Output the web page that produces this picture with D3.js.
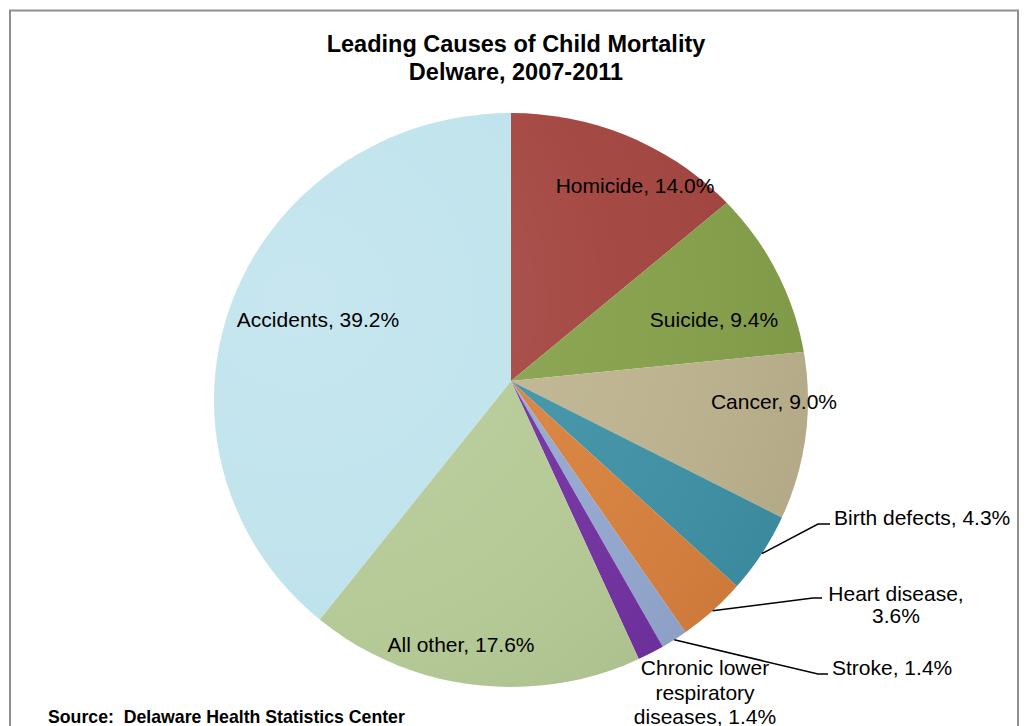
<!DOCTYPE html>
<html>
<head>
<meta charset="utf-8">
<script src="https://cdn.jsdelivr.net/npm/d3@7"></script>
<style>
  body { margin: 0; background: #fff; }
  text { font-family: "Liberation Sans", Arial, sans-serif; fill: #000; }
</style>
</head>
<body>
<svg id="chart" width="1029" height="726"></svg>
<script>
// data, clockwise from 12 o'clock
let causes = ["Homicide", "Suicide", "Cancer", "Birth defects", "Heart disease", "Stroke",
              "Chronic lower respiratory diseases", "All other", "Accidents"];
let shares = [14.0, 9.4, 9.0, 4.3, 3.6, 1.4, 1.4, 17.6, 39.2];
let sliceColors = ["#a3443f", "#85a04a", "#bdb38f", "#3f91a5", "#d7803d", "#93a7cf",
                   "#7131a0", "#b4c995", "#bde2ec"];
let labelLines = [
    ["Homicide, 14.0%"], ["Suicide, 9.4%"], ["Cancer, 9.0%"], ["Birth defects, 4.3%"],
    ["Heart disease,", "3.6%"], ["Stroke, 1.4%"],
    ["Chronic lower", "respiratory", "diseases, 1.4%"], ["All other, 17.6%"], ["Accidents, 39.2%"]
];

// layout
let svg = d3.select("#chart");
let apex = {x: 511, y: 381};                          // where the slices meet
let rim = {cx: 511, cy: 400, rx: 297, ry: 287};       // outline of the pie

// label placement: anchor, x, first baseline, line gap, optional leader (elbow x,y, end x)
let labelLayout = {
    "Homicide":      {anchor: "middle", x: 635, y: 193},
    "Suicide":       {anchor: "middle", x: 714, y: 327},
    "Cancer":        {anchor: "middle", x: 774, y: 409},
    "Birth defects": {anchor: "start",  x: 834, y: 525, leader: [818, 524, 830]},
    "Heart disease": {anchor: "middle", x: 896, y: 601, gap: 22, leader: [813, 598, 822]},
    "Stroke":        {anchor: "start",  x: 832, y: 675, leader: [818, 674, 828]},
    "Chronic lower respiratory diseases": {anchor: "middle", x: 705, y: 675, gap: 24.5},
    "All other":     {anchor: "middle", x: 461, y: 652},
    "Accidents":     {anchor: "middle", x: 318, y: 327}
};

let rows = causes.map((c, i) => ({name: c, value: shares[i], color: sliceColors[i], lines: labelLines[i]}));

// frame
svg.append("rect")
    .attr("x", 10).attr("y", 10.5)
    .attr("width", 1008).attr("height", 800)
    .attr("fill", "none")
    .attr("stroke", "#8f8f8f")
    .attr("stroke-width", 2);

// title
let title = svg.append("text")
    .attr("text-anchor", "middle")
    .style("font-size", "23.5px")
    .style("font-weight", "bold");
title.append("tspan").attr("x", 516).attr("y", 52).text("Leading Causes of Child Mortality");
title.append("tspan").attr("x", 516).attr("y", 80).text("Delware, 2007-2011");

let defs = svg.append("defs");
defs.append("clipPath").attr("id", "rimClip")
    .append("ellipse")
    .attr("cx", rim.cx).attr("cy", rim.cy)
    .attr("rx", rim.rx).attr("ry", rim.ry);

let shine = defs.append("radialGradient")
    .attr("id", "shine")
    .attr("gradientUnits", "userSpaceOnUse")
    .attr("cx", 300).attr("cy", 300).attr("r", 520);
shine.append("stop").attr("offset", "0%").attr("stop-color", "#fff").attr("stop-opacity", 0.16);
shine.append("stop").attr("offset", "60%").attr("stop-color", "#fff").attr("stop-opacity", 0.03);
shine.append("stop").attr("offset", "100%").attr("stop-color", "#000").attr("stop-opacity", 0.05);

let pie = d3.pie().sort(null).value(d => d.value);
let arcs = pie(rows);
let arc = d3.arc().innerRadius(0).outerRadius(360);

let pieG = svg.append("g").attr("clip-path", "url(#rimClip)");
pieG.append("g")
    .attr("transform", `translate(${apex.x},${apex.y})`)
    .selectAll("path")
    .data(arcs)
    .enter().append("path")
    .attr("d", arc)
    .attr("fill", d => d.data.color);

pieG.append("rect")
    .attr("x", rim.cx - rim.rx).attr("y", rim.cy - rim.ry)
    .attr("width", rim.rx * 2).attr("height", rim.ry * 2)
    .attr("fill", "url(#shine)");

// point on the rim along the slice's middle angle, seen from the apex
function rimPoint(a) {
    let dx = Math.sin(a), dy = -Math.cos(a);
    let ox = apex.x - rim.cx, oy = apex.y - rim.cy;
    let A = dx * dx / (rim.rx * rim.rx) + dy * dy / (rim.ry * rim.ry);
    let B = 2 * (ox * dx / (rim.rx * rim.rx) + oy * dy / (rim.ry * rim.ry));
    let C = ox * ox / (rim.rx * rim.rx) + oy * oy / (rim.ry * rim.ry) - 1;
    let t = (-B + Math.sqrt(B * B - 4 * A * C)) / (2 * A);
    return [apex.x + dx * t, apex.y + dy * t];
}

// leader lines
svg.append("g").selectAll("path")
    .data(arcs.filter(d => labelLayout[d.data.name].leader))
    .enter().append("path")
    .attr("fill", "none")
    .attr("stroke", "#000")
    .attr("stroke-width", 1.5)
    .attr("d", d => {
        let p = rimPoint((d.startAngle + d.endAngle) / 2);
        let l = labelLayout[d.data.name].leader;
        return d3.line()([p, [l[0], l[1]], [l[2], l[1]]]);
    });

// labels
let labels = svg.append("g").selectAll("text")
    .data(arcs)
    .enter().append("text")
    .attr("text-anchor", d => labelLayout[d.data.name].anchor)
    .style("font-size", "21px");
labels.each(function (d) {
    let L = labelLayout[d.data.name];
    d3.select(this).selectAll("tspan")
        .data(d.data.lines)
        .enter().append("tspan")
        .attr("x", L.x)
        .attr("y", (s, i) => L.y + i * (L.gap || 24))
        .text(s => s);
});

// source note
svg.append("text")
    .attr("x", 48).attr("y", 723)
    .style("font-size", "17.7px")
    .style("font-weight", "bold")
    .style("white-space", "pre")
    .text("Source:  Delaware Health Statistics Center");
</script>
</body>
</html>
